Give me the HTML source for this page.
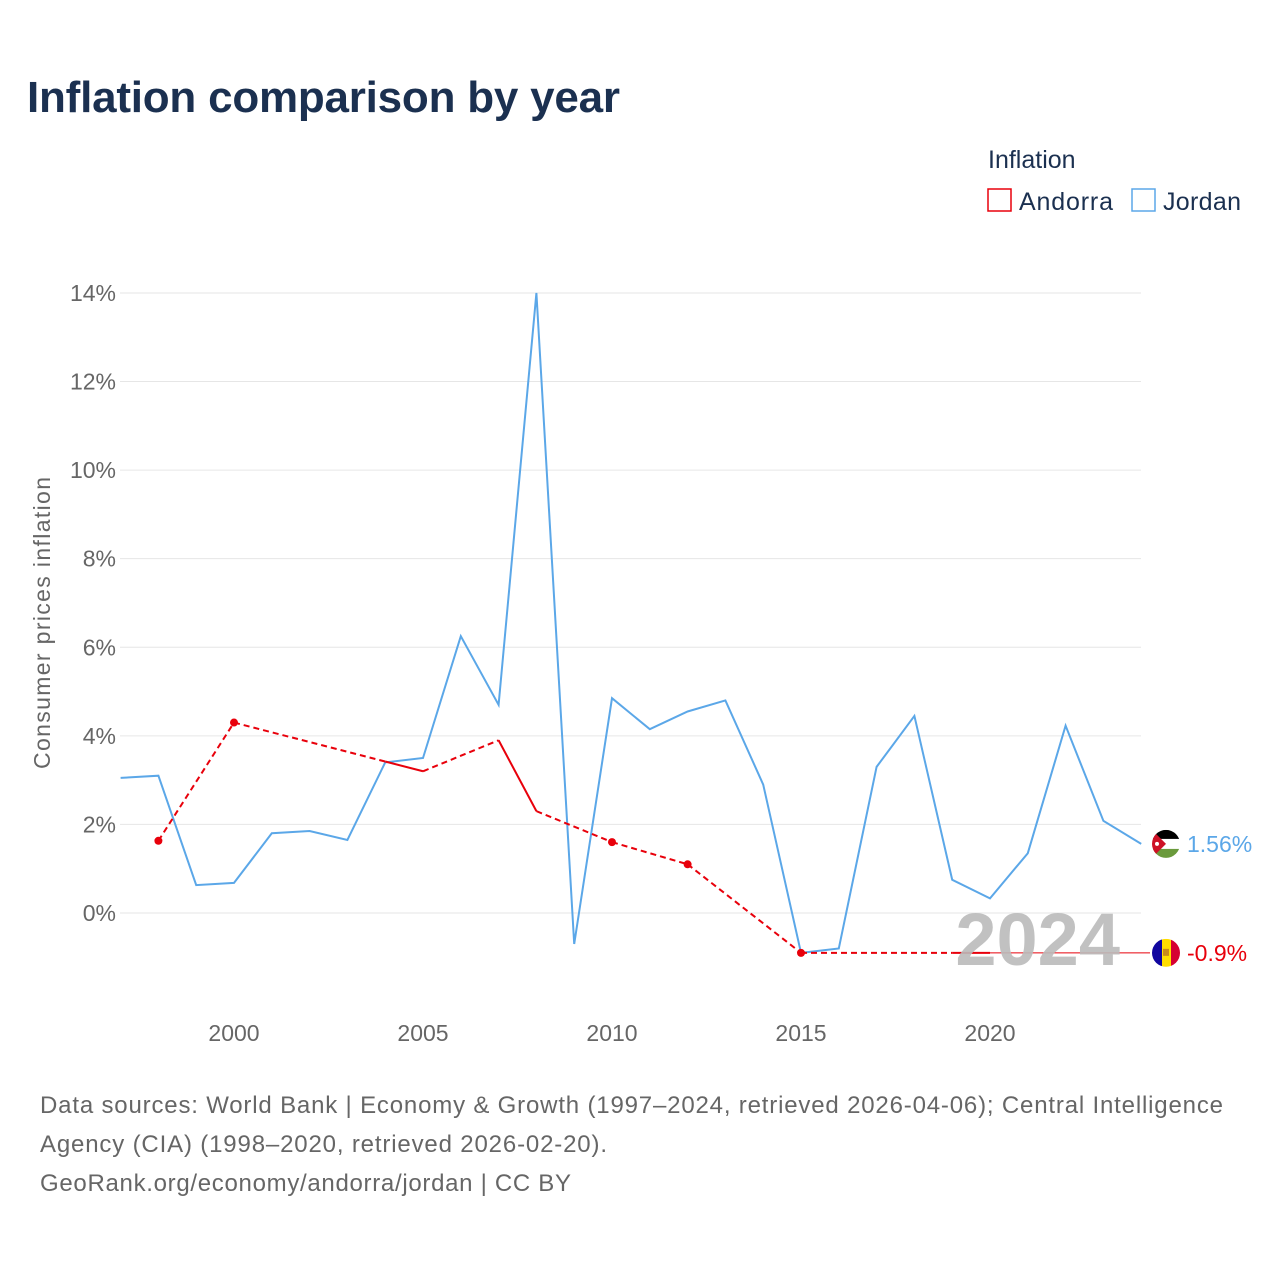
<!DOCTYPE html>
<html><head><meta charset="utf-8"><style>
body{margin:0;background:#fff;font-family:"Liberation Sans",sans-serif}
</style></head><body>
<svg id="c" width="1280" height="1280" xmlns="http://www.w3.org/2000/svg" style="font-family:'Liberation Sans',sans-serif">
<defs><clipPath id="cj"><circle id="cjc" cx="1166" cy="0" r="14"/></clipPath><clipPath id="ca"><circle id="cac" cx="1166" cy="0" r="14"/></clipPath></defs>
<text x="27" y="112" font-size="44" font-weight="bold" fill="#1b3050" textLength="593">Inflation comparison by year</text>
<text x="988" y="168" font-size="25" fill="#1b3050">Inflation</text>
<g><rect x="988" y="189" width="23" height="22" fill="none" stroke="#e8000b" stroke-width="1.5"/><text x="1019" y="210" font-size="25" fill="#1b3050" textLength="94">Andorra</text></g>
<g><rect x="1132" y="189" width="23" height="22" fill="none" stroke="#5ba7e8" stroke-width="1.5"/><text x="1163" y="210" font-size="25" fill="#1b3050" textLength="78">Jordan</text></g>
<text transform="translate(50,623) rotate(-90)" text-anchor="middle" font-size="23" fill="#666" textLength="292">Consumer prices inflation</text>
<g id="grid"></g><g id="marks"></g>
<text x="1120" y="965" text-anchor="end" font-size="74" font-weight="bold" fill="#bbb" opacity="0.9">2024</text>
<g font-size="24" fill="#666">
<text x="40" y="1113" textLength="1183">Data sources: World Bank | Economy &amp; Growth (1997–2024, retrieved 2026-04-06); Central Intelligence</text>
<text x="40" y="1152" textLength="567">Agency (CIA) (1998–2020, retrieved 2026-02-20).</text>
<text x="40" y="1191" textLength="531">GeoRank.org/economy/andorra/jordan | CC BY</text>
</g>
</svg>
<script>
const yTicks=[0,2,4,6,8,10,12,14];
const xTicks=[2000,2005,2010,2015,2020];
const jordanYears=[1997,1998,1999,2000,2001,2002,2003,2004,2005,2006,2007,2008,2009,2010,2011,2012,2013,2014,2015,2016,2017,2018,2019,2020,2021,2022,2023,2024];
const jordanValues=[3.05,3.1,0.63,0.68,1.8,1.85,1.65,3.4,3.5,6.25,4.7,14.0,-0.7,4.85,4.15,4.55,4.8,2.9,-0.9,-0.8,3.3,4.45,0.75,0.33,1.35,4.23,2.08,1.56];
const andorraYears=[1998,2000,2004,2005,2007,2008,2010,2012,2015,2019,2020];
const andorraValues=[1.63,4.3,3.42,3.2,3.9,2.3,1.6,1.1,-0.9,-0.9,-0.9];
const X=y=>120.6+(y-1997)*37.8;
const Y=v=>913-v*44.29;
const NS='http://www.w3.org/2000/svg';
function mk(t,a,p){const e=document.createElementNS(NS,t);for(const k in a)e.setAttribute(k,a[k]);p.appendChild(e);return e;}
const g=document.getElementById('grid'),m=document.getElementById('marks');
yTicks.forEach(v=>{const l=mk('line',{x1:120,x2:1141,y1:Y(v),y2:Y(v),stroke:'#e6e6e6'},g);


const t=mk('text',{x:116,y:Y(v)+8,'text-anchor':'end','font-size':23,fill:'#666'},g);t.textContent=v+'%';

});
xTicks.forEach(v=>{const t=mk('text',{x:X(v),y:1041,'text-anchor':'middle','font-size':23,fill:'#666'},g);t.textContent=v;

});
const jl=mk('polyline',{points:jordanYears.map((y,i)=>X(y)+','+Y(jordanValues[i])).join(' '),fill:'none',stroke:'#5ba7e8','stroke-width':2},m);


const lastA=andorraValues[andorraValues.length-1];
const ld=mk('line',{x1:X(andorraYears[andorraYears.length-1]),x2:1150,y1:Y(lastA),y2:Y(lastA),stroke:'#e8000b','stroke-width':1},m);


for(let i=0;i<andorraYears.length-1;i++){const cont=andorraYears[i+1]-andorraYears[i]===1;
const s=mk('line',{x1:X(andorraYears[i]),y1:Y(andorraValues[i]),x2:X(andorraYears[i+1]),y2:Y(andorraValues[i+1]),stroke:'#e8000b','stroke-width':2,'stroke-dasharray':cont?'none':'6,4'},m);

}
andorraYears.forEach((y,i)=>{const p=andorraYears.includes(y-1)||andorraYears.includes(y+1);if(!p){
const c=mk('circle',{cx:X(y),cy:Y(andorraValues[i]),r:4,fill:'#e8000b'},m);

}});
const jv=jordanValues[jordanValues.length-1];
document.getElementById('cjc').setAttribute('cy',Y(jv));
document.getElementById('cac').setAttribute('cy',Y(lastA));
const jf=mk('g',{'clip-path':'url(#cj)'},m);
mk('rect',{x:1152,y:Y(jv)-14,width:28,height:28,fill:'#fff'},jf);
mk('rect',{x:1152,y:Y(jv)-14,width:28,height:9,fill:'#000'},jf);
mk('rect',{x:1152,y:Y(jv)+5,width:28,height:10,fill:'#6a9a3c'},jf);
mk('path',{d:`M1152 ${Y(jv)-14} L1166 ${Y(jv)} L1152 ${Y(jv)+14}Z`,fill:'#ce1126'},jf);
mk('circle',{cx:1157,cy:Y(jv),r:2,fill:'#fff'},jf);
const jt=mk('text',{x:1187,y:Y(jv)+8,'font-size':23,fill:'#5ba7e8'},m);jt.textContent=jv+'%';


const af=mk('g',{'clip-path':'url(#ca)'},m);
mk('rect',{x:1152,y:Y(lastA)-14,width:10,height:28,fill:'#10069f'},af);
mk('rect',{x:1162,y:Y(lastA)-14,width:9,height:28,fill:'#fedd00'},af);
mk('rect',{x:1171,y:Y(lastA)-14,width:10,height:28,fill:'#d50032'},af);
mk('rect',{x:1163,y:Y(lastA)-4,width:6,height:7,fill:'#c7891a'},af);
const at=mk('text',{x:1187,y:Y(lastA)+8,'font-size':23,fill:'#e8000b'},m);at.textContent=lastA+'%';


</script>
</body></html>
